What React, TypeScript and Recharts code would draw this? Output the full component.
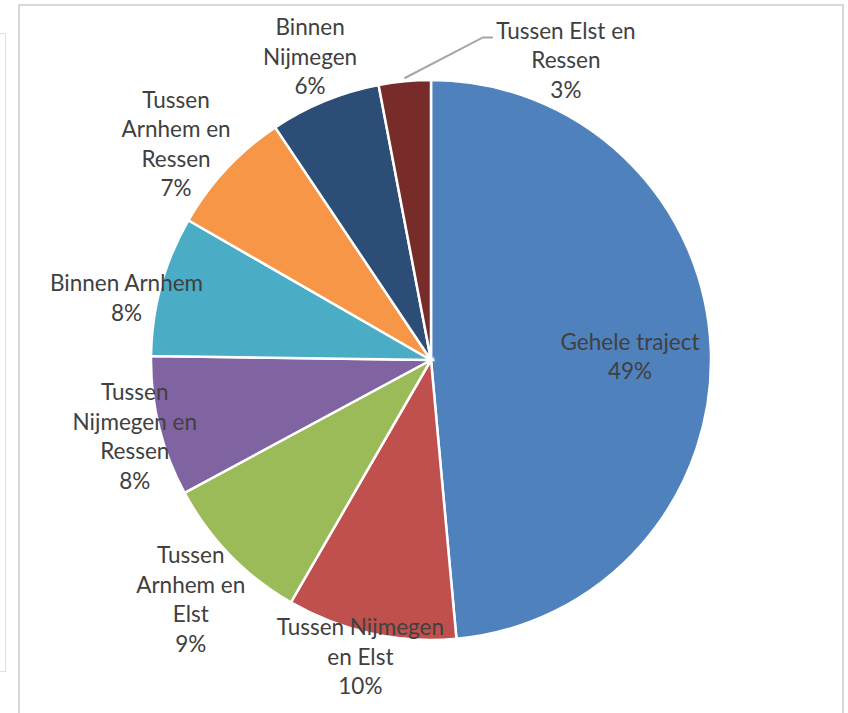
import React from 'react';
import { PieChart, Pie, Cell } from 'recharts';

const categories = [
  'Gehele traject',
  'Tussen Nijmegen en Elst',
  'Tussen Arnhem en Elst',
  'Tussen Nijmegen en Ressen',
  'Binnen Arnhem',
  'Tussen Arnhem en Ressen',
  'Binnen Nijmegen',
  'Tussen Elst en Ressen',
];
const values = [48.6, 9.8, 8.8, 8.1, 8.1, 7.3, 6.4, 3.0];
const colors = ['#4F81BD', '#C0504D', '#9BBB59', '#8064A2', '#4BACC6', '#F79646', '#2C4D75', '#772C2A'];
const labelLines = [
  ['Gehele traject'],
  ['Tussen Nijmegen', 'en Elst'],
  ['Tussen', 'Arnhem en', 'Elst'],
  ['Tussen', 'Nijmegen en', 'Ressen'],
  ['Binnen Arnhem'],
  ['Tussen', 'Arnhem en', 'Ressen'],
  ['Binnen', 'Nijmegen'],
  ['Tussen Elst en', 'Ressen'],
];
const labelRadius = [0.711, 1.088, 1.21, 1.092, 1.11, 1.195, 1.168, 1.175];
const labelShift = [-1.4, -1, 0.7, 0.6, 3.8, 2.7, -0.6, -29.6];

const data = categories.map((name, i) => ({ name, value: values[i] }));

const RAD = Math.PI / 180;
const LH = 29.5;

const renderLabel = (p: any) => {
  const { cx, cy, midAngle, outerRadius, percent, index } = p;
  const a = (midAngle + labelShift[index]) * RAD;
  const r = outerRadius * labelRadius[index];
  const x = cx + r * Math.cos(a);
  const y = cy - r * Math.sin(a);
  const lines = [...labelLines[index], `${Math.round(percent * 100)}%`];
  const y0 = y - ((lines.length - 1) * LH) / 2;
  let leader: any = null;
  if (index === 7) {
    const ea = midAngle * RAD;
    const sx = cx + (outerRadius + 3) * Math.cos(ea);
    const sy = cy - (outerRadius + 3) * Math.sin(ea);
    const ex = x - 73;
    const ey = y0 + 7;
    leader = (
      <polyline
        points={`${sx},${sy} ${ex - 10},${ey} ${ex},${ey}`}
        fill="none"
        stroke="#A6A6A6"
        strokeWidth={2}
      />
    );
  }
  return (
    <g key={`lbl-${index}`}>
      {leader}
      <text
        x={x}
        y={y0}
        textAnchor="middle"
        fill="#404040"
        fontFamily="Lato"
        fontSize={22.5}
      >
        {lines.map((l, i) => (
          <tspan key={i} x={x} y={y0 + i * LH} dominantBaseline="central">
            {l}
          </tspan>
        ))}
      </text>
    </g>
  );
};

export default function App() {
  return (
    <div style={{ position: 'absolute', left: 0, top: 0, width: 848, height: 713, background: '#fff', overflow: 'hidden' }}>
      {/* background window frame */}
      <div style={{ position: 'absolute', left: 0, top: 33, width: 6, height: 639, borderRight: '1px solid #E0E0E0', borderTop: '1px solid #E0E0E0', borderBottom: '1px solid #E0E0E0', boxSizing: 'border-box' }} />
      {/* chart frame */}
      <div style={{ position: 'absolute', left: 18, top: 4, width: 826, height: 720, border: '2px solid #D9D9D9', boxSizing: 'border-box' }} />
      <div style={{ position: 'absolute', left: 0, top: 0 }}>
        <PieChart width={848} height={713} margin={{ top: 0, right: 0, bottom: 0, left: 0 }}>
          <Pie
            data={data}
            dataKey="value"
            nameKey="name"
            cx={431}
            cy={360}
            outerRadius={280}
            startAngle={90}
            endAngle={-270}
            stroke="#FFFFFF"
            strokeWidth={2.5}
            label={renderLabel}
            labelLine={false}
            isAnimationActive={false}
          >
            {data.map((d, i) => (
              <Cell key={d.name} fill={colors[i]} />
            ))}
          </Pie>
        </PieChart>
      </div>
    </div>
  );
}
